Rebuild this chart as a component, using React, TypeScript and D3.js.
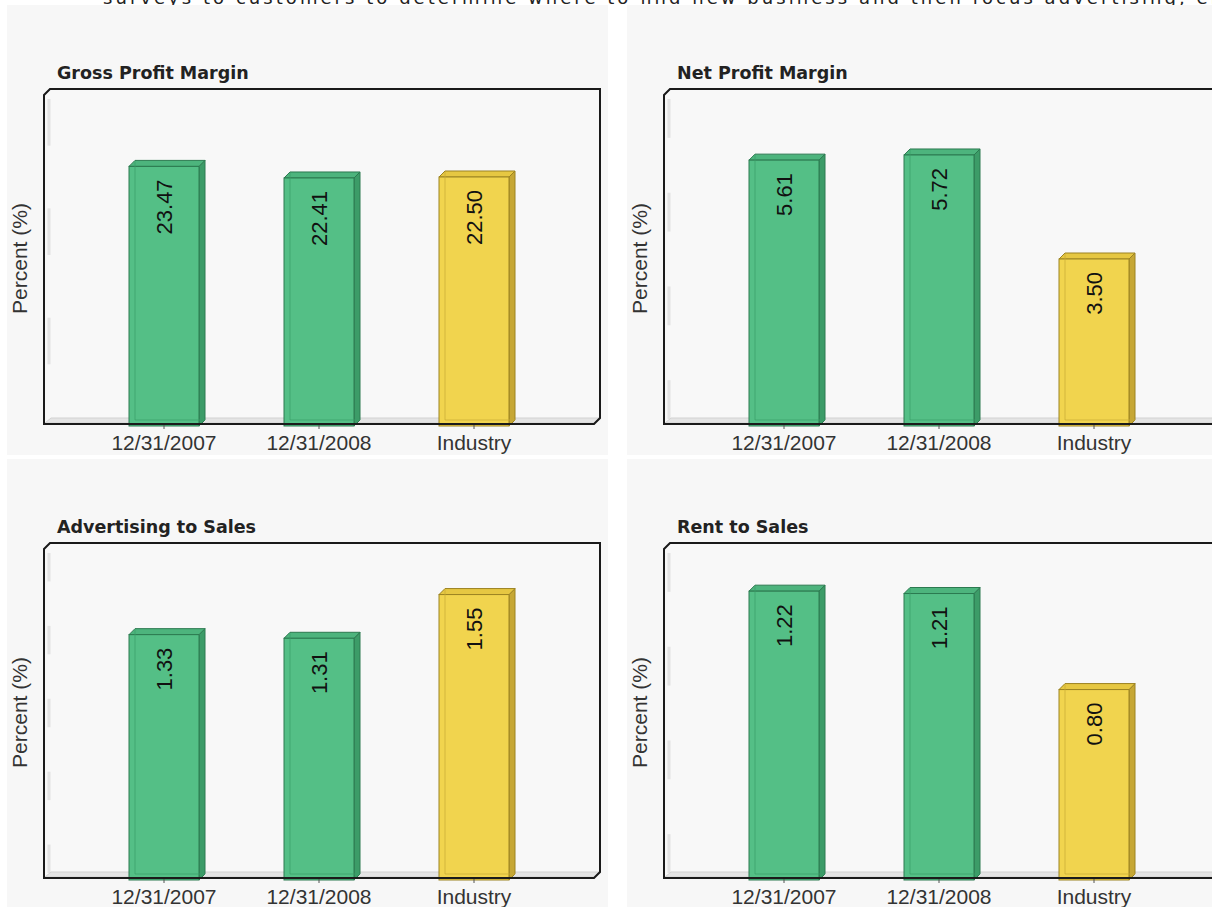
import React from "react";
import * as d3 from "d3";

const categories = ["12/31/2007", "12/31/2008", "Industry"];
const grossProfitMargin = [23.47, 22.41, 22.5];
const netProfitMargin = [5.61, 5.72, 3.5];
const advertisingToSales = [1.33, 1.31, 1.55];
const rentToSales = [1.22, 1.21, 0.8];
const chartTitles = ["Gross Profit Margin", "Net Profit Margin", "Advertising to Sales", "Rent to Sales"];
const axisMax = [30, 7, 1.8, 1.4];
const axisTickStep = [5, 1, 0.2, 0.2];
const yAxisTitle = "Percent (%)";
const headerText = "surveys to customers to determine where to find new business and then focus advertising, eff";

const W = 1212;
const H = 907;
const PANEL_W = 601;
const L = 37, T = 84, R = 593, B = 419;
const BASE = 418, TOP = 90;
const BAR_W = 70;
const DX = 6, DY = 6;

const palettes = {
  green: { front: "#54bf86", top: "#4db47d", side: "#3c9c68", stroke: "#2c7a50", back: "#3a9e69" },
  yellow: { front: "#f1d44e", top: "#e6c742", side: "#c6a735", stroke: "#9c8322", back: "#c8aa36" },
};

function Panel({ x, y, h, title, values, max, step }: any) {
  const xs = d3.scalePoint<string>().domain(categories).range([157, 467]);
  const ys = d3.scaleLinear().domain([0, max]).range([BASE, TOP]);
  const ticks = d3.range(0, max + step / 2, step);
  const bands: number[][] = [];
  for (let i = ticks.length - 1; i > 0; i -= 2) bands.push([ys(ticks[i]), ys(ticks[i - 1])]);
  const framePath = `M${L},${T + 6} L${L + 6},${T} L${R},${T} L${R},${B - 6} L${R - 6},${B} L${L},${B} Z`;
  return (
    <g transform={`translate(${x},${y})`}>
      <rect x={0} y={0} width={PANEL_W} height={h} fill="#f7f7f7" />
      <text x={50} y={74} fontFamily="DejaVu Sans, Verdana, sans-serif" fontWeight="bold" fontSize={17.5} fill="#222">{title}</text>
      <path d={framePath} fill="#f8f8f8" stroke="none" />
      {bands.map((b, i) => (
        <line key={i} x1={L + 5} x2={L + 5} y1={b[0] + 4} y2={b[1] - 4} stroke="#e3e3e3" strokeWidth={3} />
      ))}
      <polygon points={`${L + 1},${B - 1} ${L + 7},${B - 6} ${R - 1},${B - 6} ${R - 6},${B - 1}`} fill="#e4e4e4" stroke="#d2d2d2" strokeWidth={1} />
      {values.map((v: number, i: number) => {
        const cx = xs(categories[i])!;
        const x0 = cx - BAR_W / 2, x1 = cx + BAR_W / 2;
        const yt = ys(v);
        const base = BASE + 3;
        const p = i === 2 ? palettes.yellow : palettes.green;
        return (
          <g key={i}>
            <polygon points={`${x1},${yt} ${x1 + DX},${yt - DY} ${x1 + DX},${base - DY} ${x1},${base}`} fill={p.side} stroke={p.stroke} strokeWidth={1} />
            <polygon points={`${x0},${yt} ${x0 + DX},${yt - DY} ${x1 + DX},${yt - DY} ${x1},${yt}`} fill={p.top} stroke={p.stroke} strokeWidth={1} />
            <rect x={x0} y={yt} width={BAR_W} height={base - yt} fill={p.front} stroke={p.stroke} strokeWidth={1} />
            <line x1={x0 + DX} x2={x0 + DX} y1={yt - DY + 1} y2={base - DY} stroke={p.back} strokeWidth={1} opacity={0.7} />
            <line x1={x0 + DX} x2={x1 + DX} y1={base - DY} y2={base - DY} stroke={p.back} strokeWidth={1} opacity={0.7} />
            <text transform={`translate(${cx},${yt + 13}) rotate(-90)`} textAnchor="end" dy="0.36em" fontFamily="Liberation Sans, Arial, sans-serif" fontSize={22} fill="#111">{d3.format(".2f")(v)}</text>
          </g>
        );
      })}
      <path d={framePath} fill="none" stroke="#1a1a1a" strokeWidth={2} />
      {categories.map((c) => (
        <g key={c}>
          <line x1={xs(c)!} x2={xs(c)!} y1={B + 1} y2={B + 5} stroke="#555" strokeWidth={1} />
          <text x={xs(c)!} y={445} textAnchor="middle" fontFamily="Liberation Sans, Arial, sans-serif" fontSize={21} fill="#333">{c}</text>
        </g>
      ))}
      <text transform={`translate(13,${(T + B) / 2 + 2}) rotate(-90)`} textAnchor="middle" dy="0.35em" fontFamily="Liberation Sans, Arial, sans-serif" fontSize={21} fill="#333">{yAxisTitle}</text>
    </g>
  );
}

export default function App() {
  const series = [grossProfitMargin, netProfitMargin, advertisingToSales, rentToSales];
  const origins = [[7, 5, 450], [627, 5, 450], [7, 459, 448], [627, 459, 448]];
  return (
    <svg width={W} height={H} style={{ position: "absolute", left: 0, top: 0, display: "block" }}>
      <rect width={W} height={H} fill="#ffffff" />
      <text x={103} y={4} fontFamily="DejaVu Sans, Verdana, sans-serif" fontSize={18} fill="#222" textLength={1120} lengthAdjust="spacing">{headerText}</text>
      {series.map((s, i) => (
        <Panel key={i} x={origins[i][0]} y={origins[i][1]} h={origins[i][2]} title={chartTitles[i]} values={s} max={axisMax[i]} step={axisTickStep[i]} />
      ))}
    </svg>
  );
}
